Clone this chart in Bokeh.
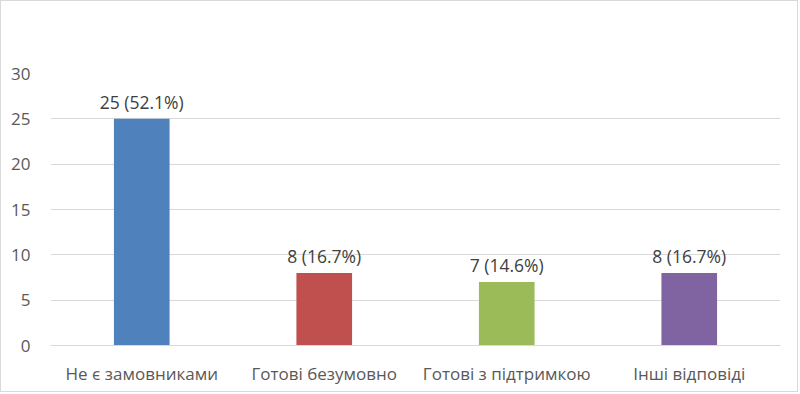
from bokeh.plotting import figure
from bokeh.models import ColumnDataSource, LabelSet, FixedTicker, Range1d
from bokeh.core.properties import value
from bokeh.embed import file_html
from bokeh.resources import INLINE

categories = ["Не є замовниками", "Готові безумовно", "Готові з підтримкою", "Інші відповіді"]
counts = [25, 8, 7, 8]
percents = [52.1, 16.7, 14.6, 16.7]
colors = ["#4F81BD", "#C0504D", "#9BBB59", "#8064A2"]
y_ticks = [0, 5, 10, 15, 20, 25, 30]

labels = [f"{c} ({p}%)" for c, p in zip(counts, percents)]
src = ColumnDataSource(dict(cat=categories, val=counts, col=colors, lab=labels))

FONT = "Open Sans"

p = figure(x_range=categories, y_range=Range1d(0, 30), width=798, height=392,
           output_backend="svg", toolbar_location=None,
           min_border_left=49, min_border_right=19, min_border_top=72, min_border_bottom=48)
p.styles = {"border": "1px solid #D9D9D9"}

p.vbar(x="cat", top="val", width=0.305, color="col", source=src, line_color=None)

p.add_layout(LabelSet(x="cat", y="val", text="lab", source=src, text_align="center",
                      text_baseline="bottom", y_offset=5, text_font=value(FONT),
                      text_font_size="17.5px", text_color="#404040"))

p.outline_line_color = None
p.xgrid.grid_line_color = None
p.ygrid.grid_line_color = "#D9D9D9"
p.ygrid.grid_line_width = 1
p.yaxis.ticker = FixedTicker(ticks=y_ticks)
p.yaxis.axis_line_color = None
p.yaxis.major_tick_line_color = None
p.yaxis.minor_tick_line_color = None
p.yaxis.major_label_standoff = 14
p.xaxis.axis_line_color = "#D9D9D9"
p.xaxis.major_tick_line_color = None
p.xaxis.minor_tick_line_color = None
p.xaxis.major_label_standoff = 10
for ax in (p.xaxis, p.yaxis):
    ax.major_label_text_font = FONT
    ax.major_label_text_font_size = "17px"
    ax.major_label_text_color = "#595959"

open("out.html", "w").write(file_html(p, INLINE))
